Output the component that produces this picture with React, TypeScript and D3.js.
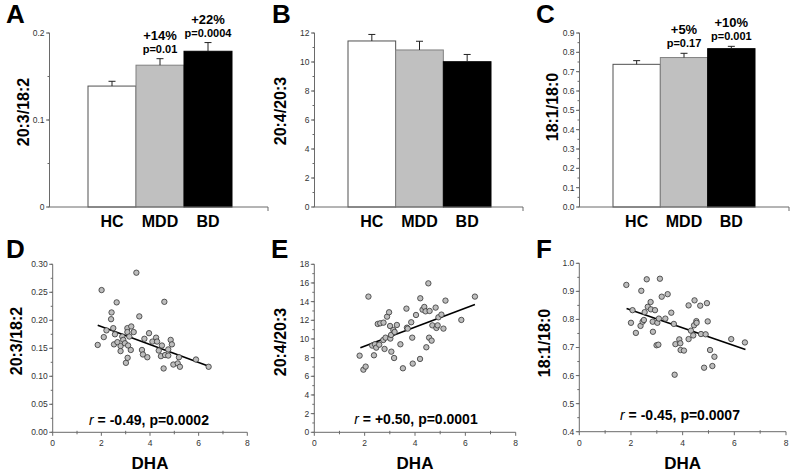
import React from "react";
import * as d3 from "d3";

// ---------- data ----------
const categories = ["HC", "MDD", "BD"];
const barFills = ["#ffffff", "#c0c0c0", "#000000"];
const barStrokes = ["#505050", "#808080", "#000000"];

const meanA = [0.139, 0.163, 0.179];
const semA = [0.0055, 0.0075, 0.01];
const pctA = ["", "+14%", "+22%"];
const pA = ["", "p=0.01", "p=0.0004"];

const meanB = [11.45, 10.83, 10.02];
const semB = [0.45, 0.6, 0.5];

const meanC = [0.738, 0.773, 0.819];
const semC = [0.019, 0.022, 0.012];
const pctC = ["", "+5%", "+10%"];
const pC = ["", "p=0.17", "p=0.001"];

const ticksA = [0, 0.1, 0.2];
const ticksB = [0, 2, 4, 6, 8, 10, 12];
const ticksC = [0, 0.1, 0.2, 0.3, 0.4, 0.5, 0.6, 0.7, 0.8, 0.9];

const dhaD = [1.85, 2.01, 2.1, 2.21, 2.4, 2.42, 2.49, 2.52, 2.56, 2.63, 2.66, 2.79, 2.79, 2.86, 2.9, 2.97, 3.01, 3.07, 3.07, 3.08, 3.1, 3.15, 3.21, 3.23, 3.33, 3.44, 3.56, 3.67, 3.71, 3.77, 3.89, 3.96, 4.1, 4.25, 4.29, 4.36, 4.45, 4.49, 4.56, 4.59, 4.62, 4.75, 4.75, 4.85, 4.9, 4.96, 5.14, 5.19, 5.23, 5.89, 6.41];
const valD = [0.156, 0.254, 0.17, 0.182, 0.202, 0.214, 0.186, 0.157, 0.175, 0.232, 0.161, 0.154, 0.145, 0.171, 0.165, 0.159, 0.124, 0.186, 0.179, 0.133, 0.155, 0.171, 0.147, 0.189, 0.179, 0.285, 0.207, 0.147, 0.139, 0.167, 0.134, 0.177, 0.162, 0.169, 0.162, 0.146, 0.136, 0.155, 0.114, 0.233, 0.138, 0.137, 0.148, 0.165, 0.157, 0.121, 0.123, 0.134, 0.117, 0.13, 0.117];
const fitD = [[1.85, 0.191], [6.42, 0.118]];

const dhaE = [1.8, 1.95, 2.04, 2.15, 2.3, 2.37, 2.41, 2.46, 2.52, 2.58, 2.62, 2.74, 2.75, 2.79, 2.83, 2.89, 2.97, 3.01, 3.02, 3.05, 3.06, 3.14, 3.17, 3.19, 3.28, 3.42, 3.52, 3.66, 3.68, 3.71, 3.85, 3.89, 3.91, 4.04, 4.2, 4.21, 4.3, 4.37, 4.42, 4.45, 4.53, 4.56, 4.58, 4.66, 4.69, 4.82, 4.85, 4.9, 4.93, 5.05, 5.13, 5.21, 5.84, 6.38];
const valE = [8.21, 6.71, 7.04, 14.54, 9.29, 8.25, 9.43, 9.07, 11.61, 9.39, 11.68, 9.89, 11.75, 8.93, 10.14, 12.39, 12.86, 11.39, 10.04, 10.43, 8.64, 10.96, 7.96, 10.75, 11.5, 9.43, 6.86, 13.25, 11.21, 11.11, 11.79, 10.14, 7.36, 12.57, 7.86, 14.36, 13.14, 13.43, 12.96, 9.11, 15.96, 10.14, 13.0, 9.82, 11.46, 13.36, 11.18, 11.46, 12.32, 12.61, 11.11, 14.11, 12.04, 14.54];
const fitE = [[1.83, 9.07], [6.38, 13.68]];

const dhaF = [1.82, 2.0, 2.06, 2.19, 2.37, 2.4, 2.45, 2.5, 2.53, 2.61, 2.65, 2.76, 2.77, 2.84, 2.85, 2.93, 2.99, 3.02, 3.06, 3.08, 3.12, 3.19, 3.33, 3.42, 3.56, 3.66, 3.69, 3.72, 3.87, 3.91, 3.92, 4.05, 4.23, 4.23, 4.32, 4.41, 4.44, 4.46, 4.53, 4.54, 4.68, 4.71, 4.83, 4.89, 4.94, 4.97, 5.06, 5.15, 5.23, 5.88, 6.41];
const valF = [0.923, 0.788, 0.833, 0.752, 0.777, 0.902, 0.792, 0.798, 0.826, 0.943, 0.845, 0.862, 0.836, 0.792, 0.756, 0.833, 0.708, 0.788, 0.71, 0.803, 0.945, 0.881, 0.803, 0.89, 0.824, 0.784, 0.603, 0.712, 0.729, 0.715, 0.691, 0.689, 0.85, 0.73, 0.76, 0.743, 0.779, 0.868, 0.794, 0.788, 0.849, 0.748, 0.628, 0.747, 0.858, 0.793, 0.691, 0.634, 0.667, 0.73, 0.718];
const fitF = [[1.83, 0.839], [6.43, 0.693]];

const ticksDHA = [0, 2, 4, 6, 8];
const ticksD = [0, 0.05, 0.1, 0.15, 0.2, 0.25, 0.3];
const ticksE = [0, 2, 4, 6, 8, 10, 12, 14, 16, 18];
const ticksF = [0.4, 0.5, 0.6, 0.7, 0.8, 0.9, 1.0];

// ---------- styles ----------
const FONT = "'Liberation Sans', Arial, Helvetica, sans-serif";
const AXIS = "#6a6a6a";
const TICKTXT = "#333";

function YAxis({ y, x, ticks, minorStep, fmt, top, bottom }) {
  const domain = y.domain();
  const minors = minorStep
    ? d3.range(domain[0], domain[1] + minorStep / 2, minorStep)
    : [];
  return (
    <g>
      <line x1={x} x2={x} y1={top} y2={bottom} stroke={AXIS} strokeWidth={1} />
      {minors.map((t, i) => (
        <line key={"m" + i} x1={x - 2} x2={x} y1={y(t)} y2={y(t)} stroke={AXIS} />
      ))}
      {ticks.map((t, i) => (
        <g key={i}>
          <line x1={x - 3.5} x2={x} y1={y(t)} y2={y(t)} stroke={AXIS} />
          <text
            x={x - 5}
            y={y(t)}
            dy="0.35em"
            textAnchor="end"
            fontSize={8.5}
            fill={TICKTXT}
            fontFamily={FONT}
          >
            {fmt(t)}
          </text>
        </g>
      ))}
    </g>
  );
}

function BarPanel({ letter, letterX, ylabel, ylabelX, ylabelY, axisX, axisEnd, bandRange, domain, ticks, minorStep, fmt, means, sems, pcts, ps }) {
  const y = d3.scaleLinear().domain(domain).range([207, 33]);
  const x = d3.scaleBand().domain(categories).range(bandRange).padding(0);
  return (
    <g fontFamily={FONT}>
      <text x={letterX} y={23} fontSize={26} fontWeight="bold">{letter}</text>
      <text
        transform={`translate(${ylabelX},${ylabelY}) rotate(-90)`}
        textAnchor="middle"
        dy="0.35em"
        fontSize={16}
        fontWeight="bold"
      >
        {ylabel}
      </text>
      {categories.map((c, i) => {
        const cx = x(c) + x.bandwidth() / 2;
        const top = y(means[i]);
        const etop = y(means[i] + sems[i]);
        return (
          <g key={c}>
            <rect
              x={x(c)}
              y={top}
              width={x.bandwidth()}
              height={y(domain[0]) - top}
              fill={barFills[i]}
              stroke={barStrokes[i]}
              strokeWidth={1}
            />
            <line x1={cx} x2={cx} y1={top} y2={etop} stroke="#222" strokeWidth={1} />
            <line x1={cx - 3.5} x2={cx + 3.5} y1={etop} y2={etop} stroke="#222" strokeWidth={1} />
            {pcts && pcts[i] ? (
              <g textAnchor="middle" fontWeight="bold">
                <text x={cx} y={etop - 6} fontSize={11}>{ps[i]}</text>
                <text x={cx} y={etop - 19} fontSize={13}>{pcts[i]}</text>
              </g>
            ) : null}
            <text x={cx} y={227} textAnchor="middle" fontSize={16} fontWeight="bold">{c}</text>
          </g>
        );
      })}
      <YAxis y={y} x={axisX} ticks={ticks} minorStep={minorStep} fmt={fmt} top={33} bottom={207} />
      <line x1={axisX} x2={axisEnd} y1={207} y2={207} stroke={AXIS} />
      <line x1={axisEnd} x2={axisEnd} y1={207} y2={211} stroke={AXIS} />
    </g>
  );
}

function ScatterPanel({ letter, letterX, ylabel, ylabelX, ylabelY, axisX, axisEnd, yTop, yBottom, domain, ticks, minorStep, fmt, xs, ys, fit, note, noteX, noteY }) {
  const x = d3.scaleLinear().domain([0, 8]).range([axisX, axisEnd]);
  const y = d3.scaleLinear().domain(domain).range([yBottom, yTop]);
  const line = d3.line().x((d) => x(d[0])).y((d) => y(d[1]));
  return (
    <g fontFamily={FONT}>
      <text x={letterX} y={258} fontSize={26} fontWeight="bold">{letter}</text>
      <text
        transform={`translate(${ylabelX},${ylabelY}) rotate(-90)`}
        textAnchor="middle"
        dy="0.35em"
        fontSize={16}
        fontWeight="bold"
      >
        {ylabel}
      </text>
      <YAxis y={y} x={axisX} ticks={ticks} minorStep={minorStep} fmt={fmt} top={yTop} bottom={yBottom} />
      <line x1={axisX} x2={axisEnd} y1={yBottom} y2={yBottom} stroke={AXIS} />
      {d3.range(0, 9).map((t) => (
        <line
          key={"xt" + t}
          x1={x(t)}
          x2={x(t)}
          y1={yBottom - (t % 2 ? 1.5 : 0)}
          y2={yBottom + (t % 2 ? 2 : 3.5)}
          stroke={AXIS}
        />
      ))}
      {ticksDHA.map((t) => (
        <text key={"xl" + t} x={x(t)} y={yBottom + 14} textAnchor="middle" fontSize={8.5} fill={TICKTXT}>
          {t}
        </text>
      ))}
      <path d={line(fit)} stroke="#000" strokeWidth={1.6} fill="none" />
      {xs.map((v, i) => (
        <circle key={i} cx={x(v)} cy={y(ys[i])} r={2.7} fill="#bdbdbd" stroke="#333" strokeWidth={0.8} />
      ))}
      <text x={noteX} y={noteY} textAnchor="middle" fontSize={14} fontWeight="bold">
        <tspan fontStyle="italic" fontWeight="normal">r</tspan>
        {note}
      </text>
      <text x={(axisX + axisEnd) / 2} y={469} textAnchor="middle" fontSize={17} fontWeight="bold">DHA</text>
    </g>
  );
}

export default function App() {
  const f2 = (t) => (t === 0 ? "0" : d3.format(".1f")(t));
  return (
    <div style={{ position: "absolute", left: 0, top: 0, background: "#fff" }}>
      <svg width={800} height={475} style={{ display: "block" }}>
        <rect width={800} height={475} fill="#fff" />
        <BarPanel
          letter="A" letterX={6} ylabel="20:3/18:2" ylabelX={23} ylabelY={112}
          axisX={49.5} axisEnd={268} bandRange={[88, 232]} domain={[0, 0.2]}
          ticks={ticksA} minorStep={0.05} fmt={f2}
          means={meanA} sems={semA} pcts={pctA} ps={pA}
        />
        <BarPanel
          letter="B" letterX={272} ylabel="20:4/20:3" ylabelX={280} ylabelY={111}
          axisX={314.5} axisEnd={523} bandRange={[348, 491]} domain={[0, 12]}
          ticks={ticksB} minorStep={1} fmt={d3.format("d")}
          means={meanB} sems={semB}
        />
        <BarPanel
          letter="C" letterX={536} ylabel="18:1/18:0" ylabelX={552} ylabelY={107}
          axisX={579.5} axisEnd={789} bandRange={[613, 755]} domain={[0, 0.9]}
          ticks={ticksC} minorStep={0.05} fmt={d3.format(".1f")}
          means={meanC} sems={semC} pcts={pctC} ps={pC}
        />
        <ScatterPanel
          letter="D" letterX={6} ylabel="20:3/18:2" ylabelX={16} ylabelY={341}
          axisX={52.7} axisEnd={247.3} yTop={264.3} yBottom={432.3} domain={[0, 0.3]}
          ticks={ticksD} minorStep={0.025} fmt={d3.format(".2f")}
          xs={dhaD} ys={valD} fit={fitD} note=" = -0.49, p=0.0002" noteX={149} noteY={425}
        />
        <ScatterPanel
          letter="E" letterX={271} ylabel="20:4/20:3" ylabelX={280} ylabelY={342}
          axisX={314.3} axisEnd={515.7} yTop={264.3} yBottom={432.3} domain={[0, 18]}
          ticks={ticksE} minorStep={1} fmt={d3.format("d")}
          xs={dhaE} ys={valE} fit={fitE} note=" = +0.50, p=0.0001" noteX={416} noteY={424}
        />
        <ScatterPanel
          letter="F" letterX={536} ylabel="18:1/18:0" ylabelX={544} ylabelY={343}
          axisX={579.3} axisEnd={786} yTop={263.3} yBottom={431.7} domain={[0.4, 1.0]}
          ticks={ticksF} minorStep={0.05} fmt={d3.format(".1f")}
          xs={dhaF} ys={valF} fit={fitF} note=" = -0.45, p=0.0007" noteX={680} noteY={420}
        />
      </svg>
    </div>
  );
}
